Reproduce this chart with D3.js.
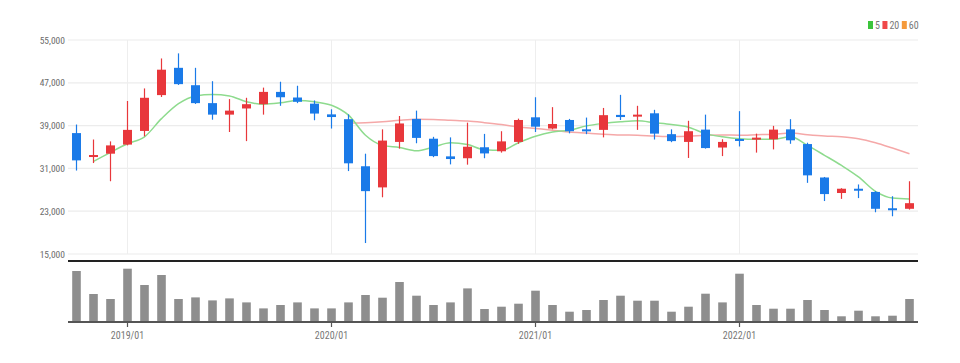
<!DOCTYPE html>
<html><head><meta charset="utf-8">
<script src="https://cdn.jsdelivr.net/npm/d3@7"></script>
<style>
html,body{margin:0;padding:0;background:#fff;}
svg{display:block;}
text{font-family:"Liberation Sans Narrow","Roboto Condensed","Liberation Sans",sans-serif;}
</style></head>
<body><svg id="c" width="960" height="363"></svg>
<script>
const months = ["2018/10","2018/11","2018/12","2019/01","2019/02","2019/03","2019/04","2019/05","2019/06","2019/07","2019/08","2019/09","2019/10","2019/11","2019/12","2020/01","2020/02","2020/03","2020/04","2020/05","2020/06","2020/07","2020/08","2020/09","2020/10","2020/11","2020/12","2021/01","2021/02","2021/03","2021/04","2021/05","2021/06","2021/07","2021/08","2021/09","2021/10","2021/11","2021/12","2022/01","2022/02","2022/03","2022/04","2022/05","2022/06","2022/07","2022/08","2022/09","2022/10","2022/11"];
const openP  = [37600,33300,33750,35450,38000,44700,49800,46550,43200,41050,42200,43000,45300,44250,43100,41100,40200,31400,27450,35950,40250,36550,33250,32900,34950,34200,35950,40550,38450,40050,38300,38200,41000,40700,41300,37400,35950,38250,34900,36500,36450,36450,38300,35550,29300,26400,27200,26600,23550,23450];
const highP  = [39200,36400,36050,43600,45950,51550,52500,49800,47300,43950,44200,46100,47200,46450,43700,42050,41100,33750,38300,40800,41800,36900,36800,39550,37450,37950,40300,44300,42450,40250,40500,42300,44750,42700,41950,38300,39900,41050,36450,41700,37500,38950,40200,35800,29400,27300,28000,26750,25800,28600];
const lowP   = [30600,32000,28600,35300,37000,44350,46600,43050,40100,37800,36100,41050,42700,43200,40000,38450,30500,17050,25600,34700,35700,33100,31750,31700,32900,33950,35600,37800,38300,37550,37400,36800,40050,38200,36400,35900,32950,34700,33300,35100,33950,34550,35600,28300,24900,25300,25450,22800,22050,23300];
const closeP = [32500,33500,35300,38200,44200,49450,46750,43200,41050,41800,43000,45300,44300,43450,41250,40600,31950,26750,36200,39400,36700,33300,32750,35050,33800,36050,40050,38800,39300,37950,38050,40950,40600,41050,37500,36100,37950,34800,35950,36250,36750,38250,36250,29700,26200,27200,26950,23450,23250,24500];
const ma5  = [null,32300,34000,35600,36900,40300,43100,44550,44800,44550,43450,43000,43250,43700,43450,42800,40950,37200,35300,34900,34300,35000,35800,35450,34500,34400,35800,37000,37800,38150,38950,39400,39700,39900,39550,39200,38700,37500,36900,36550,36450,36450,36900,35300,33450,31550,29400,26700,25450,25300];
const ma20 = [null,null,null,null,null,null,null,null,null,null,null,null,null,null,null,null,39500,39550,39700,40000,40200,40150,40000,39850,39550,39200,38750,38450,38150,37800,37600,37400,37250,37200,37050,36950,37000,37200,37250,37200,37300,37400,37600,37300,37050,36900,36550,35800,34800,33750];
const volume = [5100,2800,2300,5330,3700,4700,2300,2460,2160,2360,1960,1360,1700,1960,1360,1360,1960,2700,2430,4000,2630,1700,1960,3360,1300,1530,1830,3130,1700,1030,1200,2200,2630,2130,2130,1030,1530,2830,1960,4830,1700,1330,1330,2200,1200,570,1130,570,630,2300];
const priceTicks = [15000,23000,31000,39000,47000,55000];
const yearTicks = ["2019/01","2020/01","2021/01","2022/01"];
const legendItems = [["5","#3cc43c"],["20","#f04848"],["60","#f59a3a"]];

const UP = "#e8373b", DOWN = "#1a7ae8";
const svg = d3.select("#c");
const L = 68, R = 918;
const x = d3.scaleBand().domain(months).range([L, R]).padding(0);
const cx = m => x(m) + x.bandwidth()/2;
const y = d3.scaleLinear().domain([15000, 55000]).range([254, 40]);
const yv = d3.scaleLinear().domain([0, 5700]).range([322, 265]);

// grid
svg.append("g").selectAll("line").data(priceTicks).join("line")
  .attr("x1", L).attr("x2", R).attr("y1", d => y(d)).attr("y2", d => y(d))
  .attr("stroke", "#ececec").attr("stroke-width", 1.2);
svg.append("g").selectAll("line").data(yearTicks).join("line")
  .attr("x1", d => cx(d)).attr("x2", d => cx(d)).attr("y1", y(55000)).attr("y2", y(15000))
  .attr("stroke", "#eeeeee").attr("stroke-width", 1);

// y axis labels
const yAxis = d3.axisLeft(y).tickValues(priceTicks).tickSize(0).tickPadding(3).tickFormat(d3.format(","));
const ya = svg.append("g").attr("transform", `translate(${L},0)`).call(yAxis);
ya.select(".domain").remove();
ya.selectAll("text").attr("fill", "#6b6b6b").attr("font-size", 9.5);

// MA lines
const line = d3.line().defined(d => d.v != null).x(d => cx(d.m)).y(d => y(d.v)).curve(d3.curveMonotoneX);
svg.append("path").datum(months.map((m,i)=>({m, v: ma20[i]})))
  .attr("d", line).attr("fill","none").attr("stroke","#f5a8a8").attr("stroke-width",1.5);
svg.append("path").datum(months.map((m,i)=>({m, v: ma5[i]})))
  .attr("d", line).attr("fill","none").attr("stroke","#8edb8e").attr("stroke-width",1.5);

// candles
const cdata = months.map((m,i)=>({m, o:openP[i], h:highP[i], l:lowP[i], c:closeP[i]}));
const bw = 9;
const cg = svg.append("g").selectAll("g").data(cdata).join("g");
cg.append("line")
  .attr("x1", d => cx(d.m)).attr("x2", d => cx(d.m))
  .attr("y1", d => y(d.h)).attr("y2", d => y(d.l))
  .attr("stroke", d => d.c >= d.o ? UP : DOWN).attr("stroke-width", 1.2);
cg.append("rect")
  .attr("x", d => cx(d.m) - bw/2).attr("width", bw)
  .attr("y", d => y(Math.max(d.o,d.c)))
  .attr("height", d => Math.max(2, Math.abs(y(d.o)-y(d.c))))
  .attr("fill", d => d.c >= d.o ? UP : DOWN);

// separator
svg.append("line").attr("x1", L).attr("x2", R).attr("y1", 261).attr("y2", 261)
  .attr("stroke", "#222").attr("stroke-width", 1.8);

// volume bars
svg.append("g").selectAll("rect").data(months.map((m,i)=>({m, v: volume[i]}))).join("rect")
  .attr("x", d => cx(d.m) - 4.3).attr("width", 8.6)
  .attr("y", d => yv(d.v)).attr("height", d => yv(0) - yv(d.v))
  .attr("fill", "#8e8e8e");

// x axis
const xAxis = d3.axisBottom(x).tickValues(yearTicks).tickSize(5).tickPadding(5);
const xa = svg.append("g").attr("transform", `translate(0,${yv(0)})`).call(xAxis);
xa.select(".domain").attr("stroke", "#555").attr("stroke-width", 2).attr("d", `M${L},0H${R}`);
xa.selectAll(".tick line").attr("stroke", "#555").attr("stroke-width", 1.2);
xa.selectAll("text").attr("fill", "#777").attr("font-size", 10);

// legend
const lg = svg.append("g").attr("transform", "translate(868,21)");
let lx = 0;
legendItems.forEach(([t,col]) => {
  lg.append("rect").attr("x", lx).attr("y", 0).attr("width", 5).attr("height", 8).attr("fill", col);
  const tx = lg.append("text").attr("x", lx + 7).attr("y", 8).attr("font-size", 10).attr("fill", "#777").text(t);
  lx += 7 + tx.node().getComputedTextLength() + 2.5;
});
</script></body></html>
